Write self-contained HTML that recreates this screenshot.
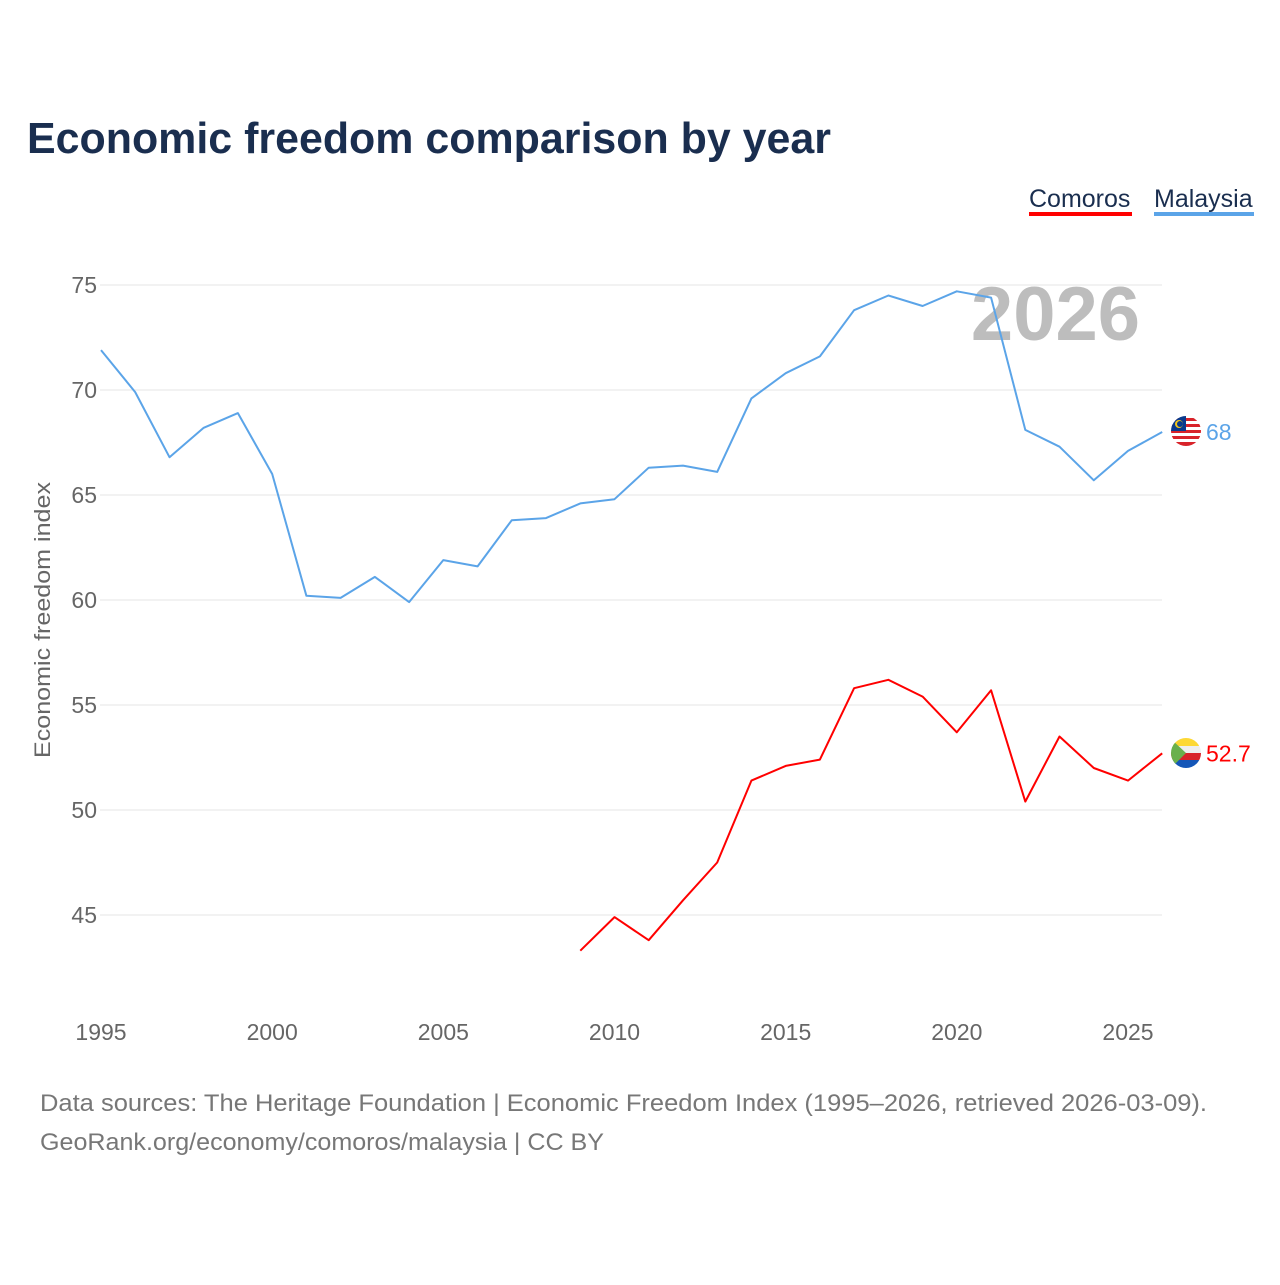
<!DOCTYPE html>
<html><head><meta charset="utf-8"><style>
body{margin:0;background:#fff;width:1280px;height:1280px;overflow:hidden;font-family:"Liberation Sans",sans-serif}
</style></head><body>
<svg width="1280" height="1280" id="svg" font-family="Liberation Sans, sans-serif">
<text x="27" y="153" font-size="44" font-weight="bold" fill="#1a2e4f" textLength="804" lengthAdjust="spacingAndGlyphs">Economic freedom comparison by year</text>
<g>
<text x="1029" y="207" font-size="25" fill="#1a2e4f">Comoros</text>
<rect x="1029" y="212" width="103" height="4" fill="#ff0000"/>
<text x="1154" y="207" font-size="25" fill="#1a2e4f">Malaysia</text>
<rect x="1154" y="212" width="100" height="4" fill="#5ba4e8"/>
</g>
<text x="1140" y="340" font-size="76" font-weight="bold" fill="#bdbdbd" text-anchor="end">2026</text>
<g id="grid"></g><g id="xt"></g><g id="lines"></g>
<text transform="translate(50,620) rotate(-90)" font-size="22" fill="#666" text-anchor="middle" textLength="276" lengthAdjust="spacingAndGlyphs">Economic freedom index</text>
<text x="40" y="1111" font-size="24" fill="#777" textLength="1167" lengthAdjust="spacingAndGlyphs">Data sources: The Heritage Foundation | Economic Freedom Index (1995–2026, retrieved 2026-03-09).</text>
<text x="40" y="1150" font-size="24" fill="#777" textLength="564" lengthAdjust="spacingAndGlyphs">GeoRank.org/economy/comoros/malaysia | CC BY</text>
<g>
<clipPath id="cm"><circle cx="1186" cy="431" r="15"/></clipPath>
<g clip-path="url(#cm)">
<rect x="1170" y="416" width="32" height="30" fill="#fff"/>
<rect x="1170" y="418" width="32" height="3" fill="#d8232a"/><rect x="1170" y="424" width="32" height="3" fill="#d8232a"/><rect x="1170" y="430" width="32" height="3" fill="#d8232a"/><rect x="1170" y="436" width="32" height="3" fill="#d8232a"/><rect x="1170" y="442" width="32" height="4" fill="#d8232a"/>
<rect x="1170" y="416" width="16" height="15" fill="#0a3a8c"/><circle cx="1179" cy="424" r="4" fill="#f5c518"/><circle cx="1180" cy="424" r="3" fill="#0a3a8c"/>
</g></g>
<g>
<clipPath id="cc"><circle cx="1186" cy="753" r="15"/></clipPath>
<g clip-path="url(#cc)">
<rect x="1170" y="738" width="32" height="8" fill="#fdd835"/><rect x="1170" y="746" width="32" height="7" fill="#eee"/><rect x="1170" y="753" width="32" height="7" fill="#d8232a"/><rect x="1170" y="760" width="32" height="9" fill="#1456b8"/>
<polygon points="1170,738 1186,753 1170,769" fill="#6ab04c"/>
</g></g>
</svg>
<script>
const years=[1995,1996,1997,1998,1999,2000,2001,2002,2003,2004,2005,2006,2007,2008,2009,2010,2011,2012,2013,2014,2015,2016,2017,2018,2019,2020,2021,2022,2023,2024,2025,2026];
const malaysia=[71.9,69.9,66.8,68.2,68.9,66.0,60.2,60.1,61.1,59.9,61.9,61.6,63.8,63.9,64.6,64.8,66.3,66.4,66.1,69.6,70.8,71.6,73.8,74.5,74.0,74.7,74.4,68.1,67.3,65.7,67.1,68.0];
const comoros=[null,null,null,null,null,null,null,null,null,null,null,null,null,null,43.3,44.9,43.8,45.7,47.5,51.4,52.1,52.4,55.8,56.2,55.4,53.7,55.7,50.4,53.5,52.0,51.4,52.7];
const yTicks=[45,50,55,60,65,70,75];
const xTicks=[1995,2000,2005,2010,2015,2020,2025];
const NS="http://www.w3.org/2000/svg";
const x=v=>101+(v-1995)*(1128-101)/30;
const y=v=>285+(75-v)*21;
function mk(t,a,p){const e=document.createElementNS(NS,t);for(const k in a)e.setAttribute(k,a[k]);document.getElementById(p).appendChild(e);return e;}
yTicks.forEach(v=>{
 const l=mk('line',{x1:100,x2:1162,y1:y(v),y2:y(v),stroke:'#e6e6e6','stroke-width':1},'grid');
 
 
 const t=mk('text',{x:97,y:y(v)+8,'font-size':23,fill:'#666','text-anchor':'end'},'grid');t.textContent=v;
 
 
});
xTicks.forEach(v=>{
 const t=mk('text',{x:x(v),y:1040,'font-size':23,fill:'#666','text-anchor':'middle'},'xt');t.textContent=v;
 
 
});
function line(vals,col,name){
 let d='';vals.forEach((v,i)=>{if(v==null)return;d+=(d?'L':'M')+x(years[i]).toFixed(1)+','+y(v).toFixed(1);});
 const p=mk('path',{d:d,fill:'none',stroke:col,'stroke-width':2,'stroke-linejoin':'round'},'lines');
 
 
 const last=vals[vals.length-1];
 const t=mk('text',{x:1206,y:y(last)+8,'font-size':23,fill:col},'lines');t.textContent=last;
 
 
}
line(malaysia,'#5ba4e8','malaysia-line');
line(comoros,'#ff0000','comoros-line');
</script>
</body></html>
